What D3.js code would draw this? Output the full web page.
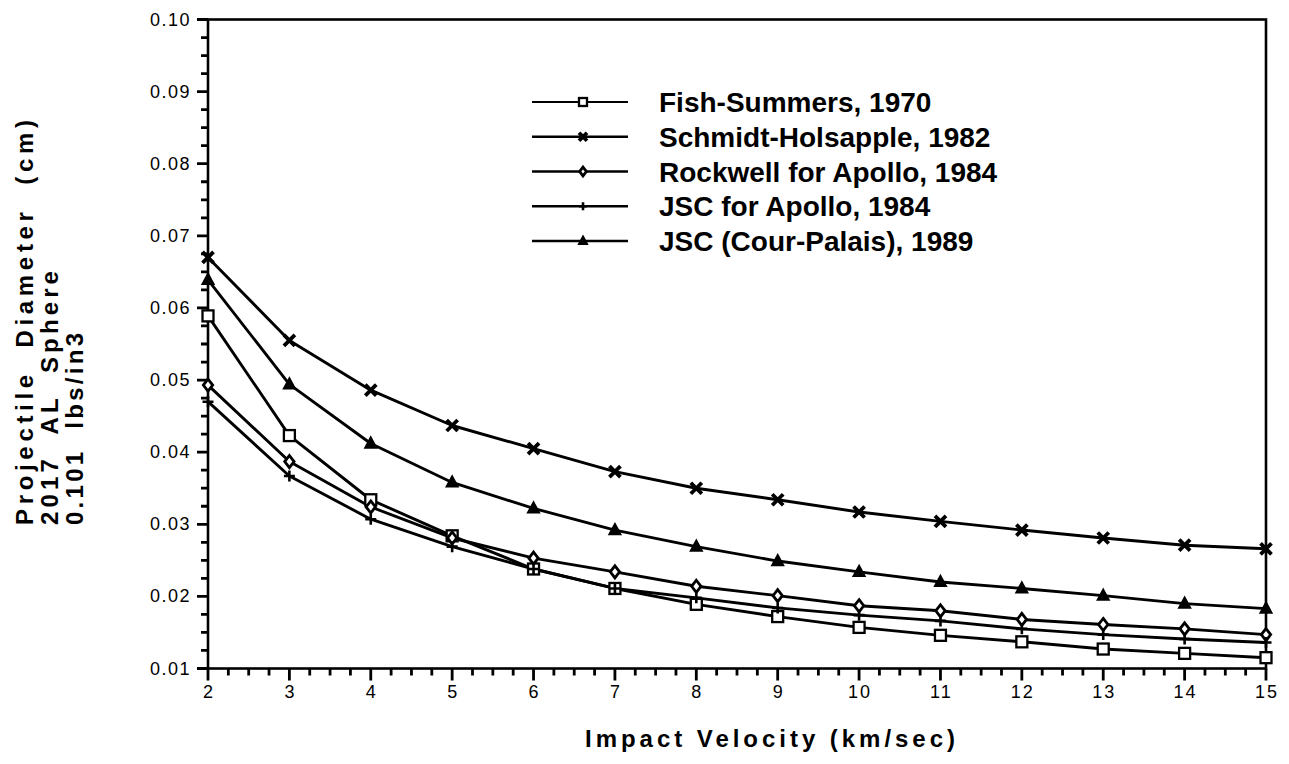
<!DOCTYPE html>
<html>
<head>
<meta charset="utf-8">
<script src="https://cdn.jsdelivr.net/npm/d3@7/dist/d3.min.js"></script>
<style>
  html, body { margin: 0; padding: 0; background: #fff; }
  svg { display: block; }
  text { font-family: "Liberation Sans", Arial, Helvetica, sans-serif; fill: #000; }
</style>
</head>
<body>
<svg id="chart" width="1289" height="764"></svg>
<script>
// ---------- data ----------
const velocity = [2, 3, 4, 5, 6, 7, 8, 9, 10, 11, 12, 13, 14, 15];
const fishSummers = [0.0589, 0.0423, 0.0334, 0.0284, 0.0238, 0.0211, 0.0189, 0.0172, 0.0157, 0.0146, 0.0137, 0.0127, 0.0121, 0.0115];
const schmidtHolsapple = [0.0670, 0.0555, 0.0486, 0.0437, 0.0405, 0.0373, 0.0350, 0.0334, 0.0317, 0.0304, 0.0292, 0.0281, 0.0271, 0.0266];
const rockwellApollo = [0.0493, 0.0387, 0.0324, 0.0281, 0.0253, 0.0234, 0.0214, 0.0201, 0.0187, 0.0180, 0.0168, 0.0161, 0.0155, 0.0147];
const jscApollo = [0.0470, 0.0367, 0.0307, 0.0269, 0.0238, 0.0211, 0.0198, 0.0184, 0.0174, 0.0166, 0.0155, 0.0147, 0.0141, 0.0136];
const jscCourPalais = [0.0639, 0.0494, 0.0412, 0.0358, 0.0322, 0.0292, 0.0269, 0.0249, 0.0234, 0.0220, 0.0211, 0.0201, 0.0190, 0.0183];
const seriesNames = ["Fish-Summers, 1970", "Schmidt-Holsapple, 1982", "Rockwell for Apollo, 1984", "JSC for Apollo, 1984", "JSC (Cour-Palais), 1989"];
const seriesMarkers = ["square", "x", "diamond", "plus", "triangle"];
const xTickValues = [2, 3, 4, 5, 6, 7, 8, 9, 10, 11, 12, 13, 14, 15];
const yTickValues = [0.01, 0.02, 0.03, 0.04, 0.05, 0.06, 0.07, 0.08, 0.09, 0.10];
const yTickLabels = ["0.01", "0.02", "0.03", "0.04", "0.05", "0.06", "0.07", "0.08", "0.09", "0.10"];
const xTitle = "Impact Velocity (km/sec)";
const yTitleLines = ["Projectile  Diameter  (cm)", "2017  AL  Sphere", "0.101  lbs/in3"];

const seriesValues = [fishSummers, schmidtHolsapple, rockwellApollo, jscApollo, jscCourPalais];

(function () {
// ---------- layout ----------
const svg = d3.select("#chart");
const pLeft = 208, pRight = 1266, pTop = 19.5, pBottom = 668.5;
const x = d3.scaleLinear().domain([2, 15]).range([pLeft, pRight]);
const y = d3.scaleLinear().domain([0.01, 0.10]).range([pBottom, pTop]);

// frame
svg.append("rect")
  .attr("x", pLeft).attr("y", pTop)
  .attr("width", pRight - pLeft).attr("height", pBottom - pTop)
  .attr("fill", "none").attr("stroke", "#000").attr("stroke-width", 2.6);

// ticks (minor every quarter step), drawn as one path per axis
const xMinor = d3.range(2, 15.001, 0.25).filter(v => Math.abs(v - Math.round(v)) > 1e-6);
const yMinor = d3.range(0.01, 0.10001, 0.0025).filter(v => Math.abs(v * 100 - Math.round(v * 100)) > 1e-6);
const xTickPath = xMinor.map(v => `M${x(v)},${pBottom}V${pBottom + 7}`).join("") +
                  xTickValues.map(v => `M${x(v)},${pBottom}V${pBottom + 12}`).join("");
const yTickPath = yMinor.map(v => `M${pLeft},${y(v)}H${pLeft - 7}`).join("") +
                  yTickValues.map(v => `M${pLeft},${y(v)}H${pLeft - 11}`).join("");
svg.append("path").attr("d", xTickPath).attr("stroke", "#000").attr("stroke-width", 2.8).attr("fill", "none");
svg.append("path").attr("d", yTickPath).attr("stroke", "#000").attr("stroke-width", 2.8).attr("fill", "none");

// tick labels
svg.append("g").selectAll("text").data(xTickValues).join("text")
  .attr("x", d => x(d) + 1).attr("y", pBottom + 29)
  .attr("text-anchor", "middle")
  .style("font-size", "18px").style("letter-spacing", "2px")
  .text(d => d3.format("d")(d));
svg.append("g").selectAll("text").data(yTickValues).join("text")
  .attr("x", pLeft - 17).attr("y", d => y(d) + 6)
  .attr("text-anchor", "end")
  .style("font-size", "18px").style("letter-spacing", "1.5px")
  .text((d, i) => yTickLabels[i]);

// ---------- markers ----------
function drawMarker(g, type, cx, cy, s) {
  const h = s / 2;
  if (type === "square") {
    g.append("rect").attr("x", cx - h).attr("y", cy - h).attr("width", s).attr("height", s)
      .attr("fill", "#fff").attr("stroke", "#000").attr("stroke-width", 2.3);
  } else if (type === "x") {
    g.append("path").attr("d", `M${cx - h},${cy - h}L${cx + h},${cy + h}M${cx - h},${cy + h}L${cx + h},${cy - h}`)
      .attr("stroke", "#000").attr("stroke-width", 3.8).attr("fill", "none");
  } else if (type === "diamond") {
    g.append("path").attr("d", `M${cx},${cy - h * 1.1}L${cx + h * 0.85},${cy}L${cx},${cy + h * 1.1}L${cx - h * 0.85},${cy}Z`)
      .attr("fill", "#fff").attr("stroke", "#000").attr("stroke-width", 2.8);
  } else if (type === "plus") {
    g.append("path").attr("d", `M${cx - h},${cy}L${cx + h},${cy}M${cx},${cy - h}L${cx},${cy + h}`)
      .attr("stroke", "#000").attr("stroke-width", 2.6).attr("fill", "none");
  } else if (type === "triangle") {
    g.append("path").attr("d", `M${cx},${cy - h * 1.1}L${cx + h},${cy + h * 0.75}L${cx - h},${cy + h * 0.75}Z`)
      .attr("fill", "#000").attr("stroke", "#000").attr("stroke-width", 2);
  }
}

// ---------- series ----------
const line = d3.line().x((d, i) => x(velocity[i])).y(d => y(d));
const plot = svg.append("g");
seriesValues.forEach((vals) => {
  plot.append("path").datum(vals).attr("d", line)
    .attr("fill", "none").attr("stroke", "#000").attr("stroke-width", 2.9)
    .attr("stroke-linejoin", "round");
});
seriesValues.forEach((vals, si) => {
  const g = plot.append("g");
  vals.forEach((v, i) => drawMarker(g, seriesMarkers[si], x(velocity[i]), y(v), 11));
});

// ---------- legend ----------
const legend = svg.append("g");
const legendY = d3.scalePoint().domain(d3.range(seriesNames.length)).range([102, 241]);
seriesNames.forEach((name, i) => {
  const ly = legendY(i);
  legend.append("line").attr("x1", 532).attr("x2", 628).attr("y1", ly).attr("y2", ly)
    .attr("stroke", "#000").attr("stroke-width", i === 0 ? 1.8 : 2.6);
  drawMarker(legend, seriesMarkers[i], 583, ly, 8);
  legend.append("text").attr("x", 659).attr("y", ly + 10)
    .style("font-size", "28px").style("font-weight", "bold")
    .text(name);
});

// ---------- titles ----------
svg.append("text")
  .attr("x", 585).attr("y", 747)
  .attr("textLength", 370).attr("lengthAdjust", "spacing")
  .style("font-size", "24px").style("font-weight", "bold")
  .text(xTitle);

const yLen = [405, 254, 192];
const yPos = [33, 58, 83];
yTitleLines.forEach((t, i) => {
  svg.append("text")
    .attr("transform", `translate(${yPos[i]},525) rotate(-90)`)
    .attr("textLength", yLen[i]).attr("lengthAdjust", "spacing")
    .style("font-size", "24px").style("font-weight", "bold")
    .style("white-space", "pre")
    .text(t);
});
})();
</script>
</body>
</html>
